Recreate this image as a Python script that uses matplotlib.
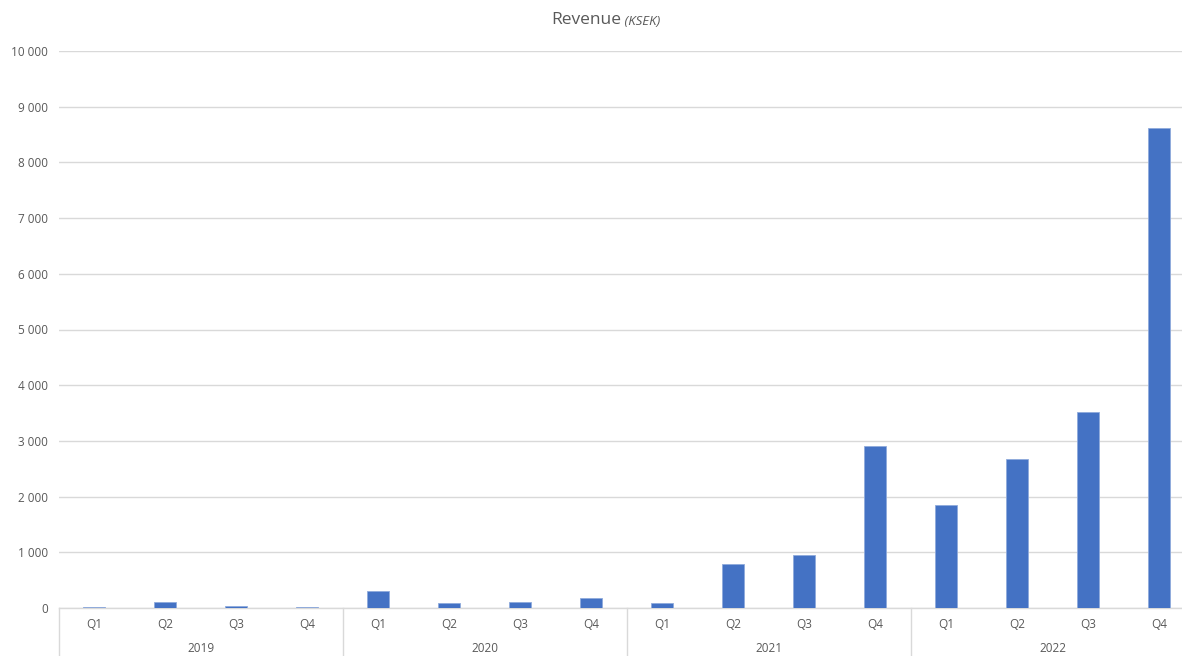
import matplotlib
matplotlib.use("Agg")
import matplotlib.pyplot as plt
from matplotlib.lines import Line2D
import matplotlib.transforms as mtransforms

years = ["2019", "2020", "2021", "2022"]
quarters = ["Q1", "Q2", "Q3", "Q4"]
revenue = [18, 100, 40, 15,
           305, 85, 102, 185,
           95, 790, 946, 2905,
           1855, 2672, 3520, 8620]
yticks = [0, 1000, 2000, 3000, 4000, 5000, 6000, 7000, 8000, 9000, 10000]

W, H = 1182, 656
fig = plt.figure(figsize=(W / 100, H / 100), dpi=100)
plt.rcParams['font.family'] = ['Open Sans', 'DejaVu Sans']
left, right, bottom, top = 59, 1194.5, 608, 51
ax = fig.add_axes([left / W, (H - bottom) / H, (right - left) / W, (bottom - top) / H])

txtc = "#595959"
gridc = "#d9d9d9"
fs = 8.5
n = len(revenue)
x = list(range(n))
ax.bar(x, revenue, width=0.31, color="#4472c4", edgecolor="#8faadc", linewidth=0.6, zorder=3)
ax.set_xlim(-0.5, n - 0.5)
ax.set_ylim(0, 10000)
ax.set_yticks(yticks)
ax.set_yticklabels([f"{v:,}".replace(",", " ") for v in yticks], color=txtc, fontsize=fs)
ax.tick_params(axis="y", length=0, pad=8)
ax.set_xticks([])
ax.grid(axis="y", color=gridc, linewidth=1, zorder=0)
for s in ["top", "right", "left"]:
    ax.spines[s].set_visible(False)
ax.spines["bottom"].set_color(gridc)
ax.spines["bottom"].set_linewidth(1)

trans = mtransforms.blended_transform_factory(ax.transData, ax.transAxes)
ph = bottom - top
for i in range(n):
    ax.text(i, -17 / ph, quarters[i % 4], transform=trans, ha="center", va="center",
            fontsize=fs, color=txtc)
for j, yr in enumerate(years):
    ax.text(4 * j + 1.5, -41 / ph, yr, transform=trans, ha="center", va="center",
            fontsize=fs, color=txtc)
for k in range(len(years) + 1):
    ax.add_line(Line2D([4 * k - 0.5, 4 * k - 0.5], [0, -48 / ph], transform=trans,
                       color=gridc, linewidth=1, clip_on=False))

t1 = fig.text(621 / W, 1 - 20 / H, "Revenue", ha="right", va="center", fontsize=12.5, color=txtc)
ax.annotate(" (KSEK)", xy=(1, 0), xycoords=t1, va="bottom", ha="left",
            fontsize=9.5, style="italic", color=txtc)

fig.savefig("out.png", dpi=100)
